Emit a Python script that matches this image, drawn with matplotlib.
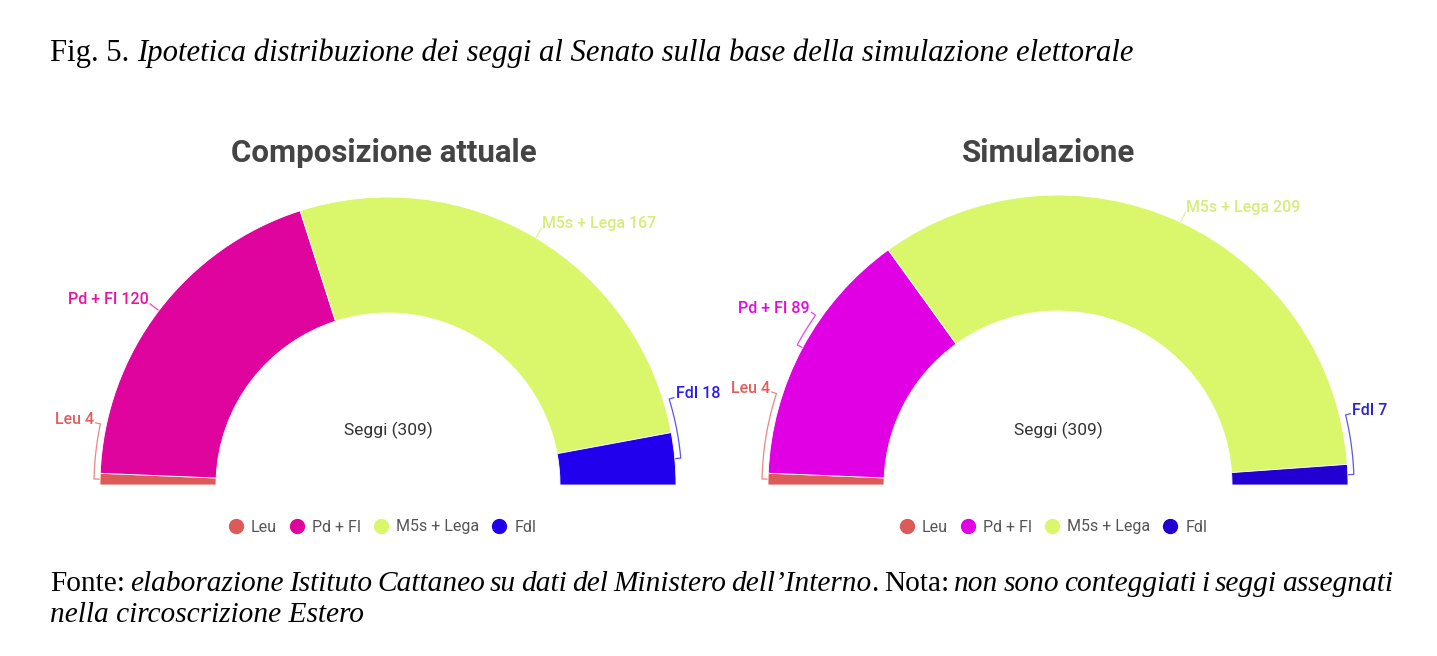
import numpy as np
import matplotlib.pyplot as plt
from matplotlib.patches import Wedge
from matplotlib.lines import Line2D

W, H = 1437, 656

# data
parties = ["Leu", "Pd + FI", "M5s + Lega", "FdI"]
seats_now = [4, 120, 167, 18]
seats_sim = [4, 89, 209, 7]
titles = ["Composizione attuale", "Simulazione"]

# colours
colors_now = ["#dc5a57", "#e0049f", "#daf76c", "#2100ee"]
colors_sim = ["#dc5a57", "#e000e3", "#daf76c", "#2300d2"]
text_now = ["#e25e5e", "#e8139e", "#d4ee78", "#2b1cf0"]
text_sim = ["#e25e5e", "#e00ae0", "#d4ee78", "#2a22d0"]

# label angle (deg); None -> middle of the segment
lab_ang_now = [168, None, None, 17]
lab_ang_sim = [162, 145, None, 13.7]

plt.rcParams['font.family'] = ['Roboto', 'DejaVu Sans']

fig = plt.figure(figsize=(W / 100, H / 100), dpi=100)
ax = fig.add_axes([0, 0, 1, 1])
ax.set_xlim(0, W)
ax.set_ylim(0, H)
ax.axis('off')


def half_donut(cx, cy, R, r, seats, colors, tcolors, lab_angles, title, title_x):
    total = sum(seats)
    edges = 180 - np.cumsum([0] + seats) * 180 / total
    for i, n in enumerate(seats):
        ax.add_patch(Wedge((cx, cy), R, edges[i + 1], edges[i], width=R - r,
                           facecolor=colors[i], edgecolor='white', linewidth=0.6))
        mid = (edges[i] + edges[i + 1]) / 2
        la = mid if lab_angles[i] is None else lab_angles[i]
        # leader line: bracket along the arc from label angle to segment middle
        th = np.radians(np.linspace(la, mid, 40))
        xs = list(cx + (R + 6) * np.cos(th))
        ys = list(cy + (R + 6) * np.sin(th))
        a0, a1 = np.radians(la), np.radians(mid)
        xs = [cx + (R + 11) * np.cos(a0)] + xs + [cx + (R + 1) * np.cos(a1)]
        ys = [cy + (R + 11) * np.sin(a0)] + ys + [cy + (R + 1) * np.sin(a1)]
        ax.plot(xs, ys, color=tcolors[i], lw=0.9, alpha=0.75)
        tx = cx + (R + 13) * np.cos(a0)
        ty = cy + (R + 13) * np.sin(a0) + 3
        ha = 'right' if np.cos(a0) < 0 else 'left'
        ax.text(tx, ty, f"{parties[i]} {n}", color=tcolors[i], ha=ha, va='center',
                fontsize=11.5, fontweight='medium')
    ax.text(cx, cy + 55, f"Seggi ({total})", ha='center', va='center',
            fontsize=12.5, color='#333333')
    ax.text(title_x, H - 153, title, ha='center', va='center', fontsize=22.5,
            fontweight='bold', color='#444444')


half_donut(388, H - 485, 288, 172, seats_now, colors_now, text_now, lab_ang_now, titles[0], 384)
half_donut(1058, H - 485, 290, 174, seats_sim, colors_sim, text_sim, lab_ang_sim, titles[1], 1049)

# legends
for cx, cols in [(383, colors_now), (1054, colors_sim)]:
    handles = [Line2D([], [], ls='', marker='o', markersize=10, color=c) for c in cols]
    fig.legend(handles, parties, loc='center', bbox_to_anchor=(cx / W, 1 - 527 / H),
               ncol=4, frameon=False, handlelength=0.8, handletextpad=0.55,
               columnspacing=0.85, prop={'family': 'Roboto', 'size': 11.5},
               labelcolor='#555555')

# caption and source, Times-like text with mixed upright / italic
fig.canvas.draw()
rend = fig.canvas.get_renderer()
serif = 'Liberation Serif'


def put(x, y, s, italic, fs):
    t = fig.text(x / W, 1 - y / H, s, family=serif, size=fs, va='center',
                 style='italic' if italic else 'normal', color='black')
    return t.get_window_extent(rend).x1


fs = 22.1
space = 0.25 * fs * 100 / 72
x = put(50, 53, "Fig. 5.", False, fs)
put(x + space, 53, "Ipotetica distribuzione dei seggi al Senato sulla base della simulazione elettorale", True, fs)

words = [[("Fonte:", False)], [("elaborazione", True)], [("Istituto", True)], [("Cattaneo", True)],
         [("su", True)], [("dati", True)], [("del", True)], [("Ministero", True)],
         [("dell’Interno", True), (".", False)], [("Nota:", False)], [("non", True)],
         [("sono", True)], [("conteggiati", True)], [("i", True)], [("seggi", True)],
         [("assegnati", True)]]

fs2 = 21.2


def width(s, italic):
    t = fig.text(0, 0, s, family=serif, size=fs2, style='italic' if italic else 'normal')
    w = t.get_window_extent(rend).width
    t.remove()
    return w


widths = [sum(width(s, it) for s, it in w) for w in words]
gap = (1393 - 50 - sum(widths)) / (len(words) - 1)
x = 50
for w, wd in zip(words, widths):
    xx = x
    for s, it in w:
        xx = put(xx, 584, s, it, fs2)
    x += wd + gap
put(50, 615, "nella circoscrizione Estero", True, fs2)

fig.savefig("out.png", dpi=100)
